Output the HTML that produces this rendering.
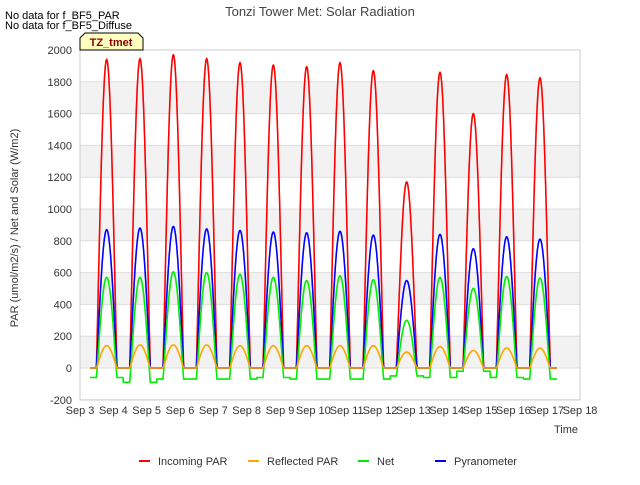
<!DOCTYPE html>
<html><head><meta charset="utf-8"><style>
body{margin:0;background:#fff;font-family:"Liberation Sans",sans-serif}
</style></head><body>
<svg id="c" width="640" height="480" xmlns="http://www.w3.org/2000/svg" font-family="Liberation Sans, sans-serif">
<rect width="640" height="480" fill="#fff"/>
<g id="bands"></g>
<g id="grid"></g>
<g id="series"></g>
<rect x="80" y="50" width="500" height="350" fill="none" stroke="#ccc"/>
<g id="axes" font-size="11" fill="#333"></g>
<text x="320" y="16" text-anchor="middle" font-size="13" fill="#444">Tonzi Tower Met: Solar Radiation</text>
<text x="5" y="19" font-size="11" fill="#000">No data for f_BF5_PAR</text>
<text x="5" y="29" font-size="11" fill="#000">No data for f_BF5_Diffuse</text>
<g>
<path d="M80,50 L80,38 L85,33 L138,33 L143,38 L143,50 Z" fill="#ffffc0" stroke="#000"/>
<text x="111" y="46" text-anchor="middle" font-size="11" font-weight="bold" fill="#8b0000">TZ_tmet</text>
</g>
<text x="578" y="433" text-anchor="end" font-size="11" fill="#333">Time</text>
<text transform="translate(18,228) rotate(-90)" text-anchor="middle" font-size="11" fill="#333">PAR (umol/m2/s) / Net and Solar (W/m2)</text>
<g id="legend" font-size="11" fill="#333"></g>
</svg>
<script>
const dayLabels=["Sep 3","Sep 4","Sep 5","Sep 6","Sep 7","Sep 8","Sep 9","Sep 10","Sep 11","Sep 12","Sep 13","Sep 14","Sep 15","Sep 16","Sep 17","Sep 18"];
const yTicks=[-200,0,200,400,600,800,1000,1200,1400,1600,1800,2000];
const incomingPeak=[1940,1945,1970,1945,1920,1905,1895,1920,1870,1170,1860,1600,1845,1825];
const reflectedPeak=[140,145,145,145,140,140,140,140,140,100,135,110,125,125];
const netPeak=[570,570,605,600,590,570,550,580,555,300,570,500,575,565];
const pyrPeak=[870,880,890,875,865,855,850,860,835,550,840,750,825,810];
const netNight=[-60,-90,-70,-70,-70,-60,-70,-70,-70,-50,-60,-20,-60,-70];
const ns="http://www.w3.org/2000/svg";
const X=d=>80+d*500/15, Y=v=>368-v*(318/2000);
function mk(t,a,p){const e=document.createElementNS(ns,t);for(const k in a)e.setAttribute(k,a[k]);p.appendChild(e);return e;}
const bands=document.getElementById('bands'),grid=document.getElementById('grid'),axes=document.getElementById('axes');
for(let v=0;v<2000;v+=400){const r=mk('rect',{x:80,y:Y(v+200),width:500,height:Y(v)-Y(v+200),fill:'#f2f2f2'},bands);

}
yTicks.forEach(v=>{const l=mk('line',{x1:80,x2:580,y1:Y(v),y2:Y(v),stroke:'#ddd'},grid);


const t=mk('text',{x:72,y:Y(v)+4,'text-anchor':'end'},axes);t.textContent=v;

});
dayLabels.forEach((s,i)=>{const t=mk('text',{x:X(i),y:414,'text-anchor':'middle'},axes);t.textContent=s;

});
function series(peaks,night){const pts=[];for(let d=0.3;d<=14.31;d+=0.01){let k=Math.round(d-0.8);k=Math.min(Math.max(k,0),peaks.length-1);const c=k+0.8;const t=(d-c)/0.31;const base=night?night[k]:0;let v;
if(Math.abs(t)<1){const s=Math.pow(Math.cos(Math.PI/2*t),1.1);v=peaks[k]*s+base*(1-s);}else v=base;
pts.push(X(d).toFixed(1)+','+Y(v).toFixed(1));}return pts.join(' ');}
const sg=document.getElementById('series');
const defs=[["incoming-par-line",incomingPeak,null,"#ff0000"],["pyranometer-line",pyrPeak,null,"#0000ff"],["net-line",netPeak,netNight,"#00ee00"],["reflected-par-line",reflectedPeak,null,"#ffa500"]];
defs.forEach(([n,p,nn,c])=>{const l=mk('polyline',{points:series(p,nn),fill:'none',stroke:c,'stroke-width':1.6},sg);

});
const lg=document.getElementById('legend');
[["Incoming PAR","#ff0000",139],["Reflected PAR","#ffa500",248],["Net","#00ee00",358],["Pyranometer","#0000ff",435]].forEach(([s,c,x])=>{
const g=mk('g',{},lg);


mk('line',{x1:x,x2:x+11,y1:461,y2:461,stroke:c,'stroke-width':2},g);
const t=mk('text',{x:x+19,y:465},g);t.textContent=s;});
</script>
</body></html>
